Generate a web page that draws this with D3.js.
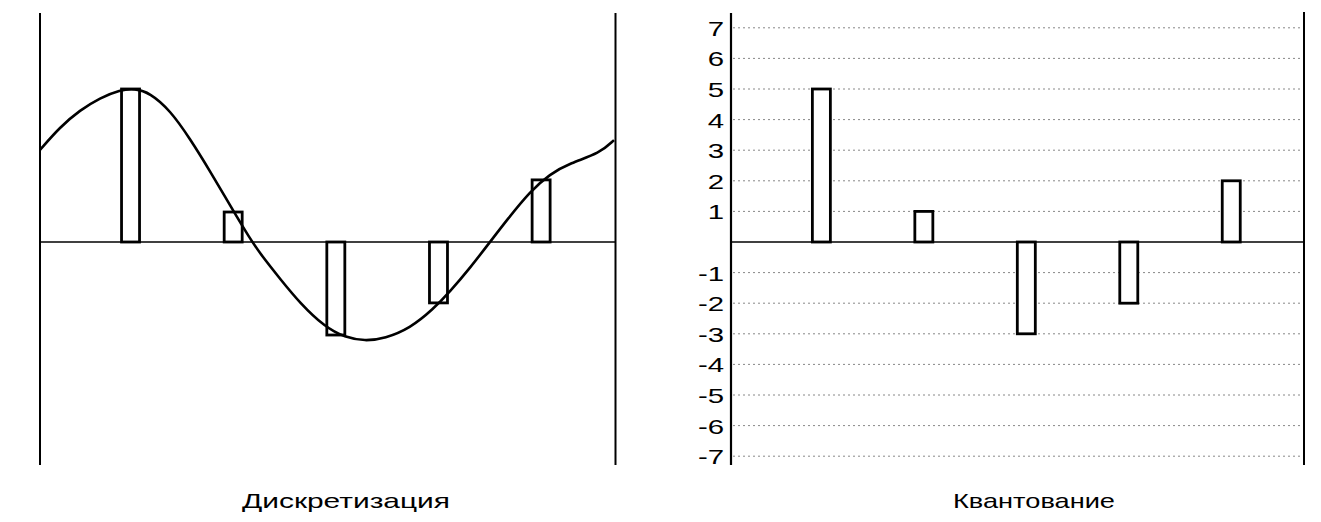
<!DOCTYPE html>
<html>
<head>
<meta charset="utf-8">
<script src="https://cdn.jsdelivr.net/npm/d3@7/dist/d3.min.js"></script>
<style>
  html, body { margin: 0; padding: 0; background: #fff; }
  svg { display: block; }
  text { font-family: "Liberation Sans", Arial, sans-serif; fill: #000; }
</style>
</head>
<body>
<svg id="chart" width="1321" height="522"></svg>
<script>
// ---- data ----
const sampleIndex = [0, 1, 2, 3, 4];
const sampledValues = [5.0, 0.98, -3.04, -1.99, 2.03];
const quantizedValues = [5, 1, -3, -2, 2];
const levelTicks = [7, 6, 5, 4, 3, 2, 1, -1, -2, -3, -4, -5, -6, -7];
const gridLevels = [7, 6, 5, 4, 3, 2, 1, -1, -2, -3, -4, -5, -6, -7];
const curveT = [-0.882, -0.687, -0.492, -0.297, -0.103, 0.043, 0.190, 0.384, 0.579, 0.774, 0.969, 1.164, 1.290, 1.456, 1.651, 1.894, 2.089, 2.284, 2.479, 2.722, 2.947, 3.112, 3.307, 3.502, 3.667, 3.891, 4.086, 4.281, 4.573, 4.710];
const curveV = [3.01, 3.76, 4.31, 4.71, 4.97, 5.02, 4.87, 4.31, 3.38, 2.32, 1.20, 0.10, -0.50, -1.20, -2.00, -2.78, -3.12, -3.24, -3.15, -2.82, -2.20, -1.62, -0.85, 0.0, 0.72, 1.65, 2.22, 2.58, 2.90, 3.33];
const titleLeft = "Дискретизация";
const titleRight = "Квантование";

// ---- layout ----
const svg = d3.select("#chart");
const tDomain = [-0.882, 4.71];
const xL = d3.scaleLinear().domain(tDomain).range([40, 614]);
const xR = d3.scaleLinear().domain(tDomain).range([731, 1304]);
const y = d3.scaleLinear().domain([-7, 7]).range([456.2, 27.8]);
const frameTop = 13, frameBottom = 465;
const barW = 18;

// ---------- LEFT PANEL ----------
const gL = svg.append("g");
gL.append("line").attr("x1", 40).attr("x2", 40).attr("y1", frameTop).attr("y2", frameBottom)
  .attr("stroke", "#000").attr("stroke-width", 2);
gL.append("line").attr("x1", 615.5).attr("x2", 615.5).attr("y1", frameTop).attr("y2", frameBottom)
  .attr("stroke", "#000").attr("stroke-width", 2);
gL.append("line").attr("x1", 40).attr("x2", 615).attr("y1", y(0)).attr("y2", y(0))
  .attr("stroke", "#000").attr("stroke-width", 1.5);

gL.selectAll("rect.s").data(sampleIndex).join("rect").attr("class", "s")
  .attr("x", i => xL(i) - barW / 2)
  .attr("y", i => y(Math.max(sampledValues[i], 0)))
  .attr("width", barW)
  .attr("height", i => Math.abs(y(sampledValues[i]) - y(0)))
  .attr("fill", "#fff").attr("stroke", "#000").attr("stroke-width", 2.8);

const curveData = curveT.map((t, k) => [t, curveV[k]]);
gL.append("path").datum(curveData)
  .attr("d", d3.line().x(d => xL(d[0])).y(d => y(d[1])).curve(d3.curveBasis))
  .attr("fill", "none").attr("stroke", "#000").attr("stroke-width", 2.6);

gL.append("text").attr("x", 346).attr("y", 508).attr("text-anchor", "middle")
  .attr("font-size", 21).attr("textLength", 208).attr("lengthAdjust", "spacingAndGlyphs")
  .text(titleLeft);

// ---------- RIGHT PANEL ----------
const gR = svg.append("g");
gR.selectAll("line.grid").data(gridLevels).join("line").attr("class", "grid")
  .attr("x1", 733).attr("x2", 1302)
  .attr("y1", d => y(d)).attr("y2", d => y(d))
  .attr("stroke", "#888").attr("stroke-width", 1).attr("stroke-dasharray", "2,3");

gR.append("line").attr("x1", 731).attr("x2", 1304).attr("y1", y(0)).attr("y2", y(0))
  .attr("stroke", "#000").attr("stroke-width", 1.5);

const axis = d3.axisLeft(y).tickValues(levelTicks).tickSize(0).tickPadding(0)
  .tickFormat(d => (d < 0 ? "-" : "") + Math.abs(d));
const axG = gR.append("g").attr("transform", "translate(731,0)").call(axis);
axG.select(".domain").remove();
axG.selectAll(".tick text")
  .attr("font-size", 21)
  .attr("font-family", "'Liberation Sans', Arial, sans-serif")
  .attr("fill", "#000")
  .attr("x", -7 / 1.4)
  .attr("dy", "0.36em")
  .attr("transform", "scale(1.4,1)");

gR.append("line").attr("x1", 731).attr("x2", 731).attr("y1", frameTop).attr("y2", frameBottom)
  .attr("stroke", "#000").attr("stroke-width", 2.2);
gR.append("line").attr("x1", 1304).attr("x2", 1304).attr("y1", frameTop - 1).attr("y2", frameBottom)
  .attr("stroke", "#000").attr("stroke-width", 2);

gR.selectAll("rect.q").data(sampleIndex).join("rect").attr("class", "q")
  .attr("x", i => xR(i) - barW / 2)
  .attr("y", i => y(Math.max(quantizedValues[i], 0)))
  .attr("width", barW)
  .attr("height", i => Math.abs(y(quantizedValues[i]) - y(0)))
  .attr("fill", "#fff").attr("stroke", "#000").attr("stroke-width", 2.8);

gR.append("text").attr("x", 1034).attr("y", 508).attr("text-anchor", "middle")
  .attr("font-size", 21).attr("textLength", 162).attr("lengthAdjust", "spacingAndGlyphs")
  .text(titleRight);
</script>
</body>
</html>
